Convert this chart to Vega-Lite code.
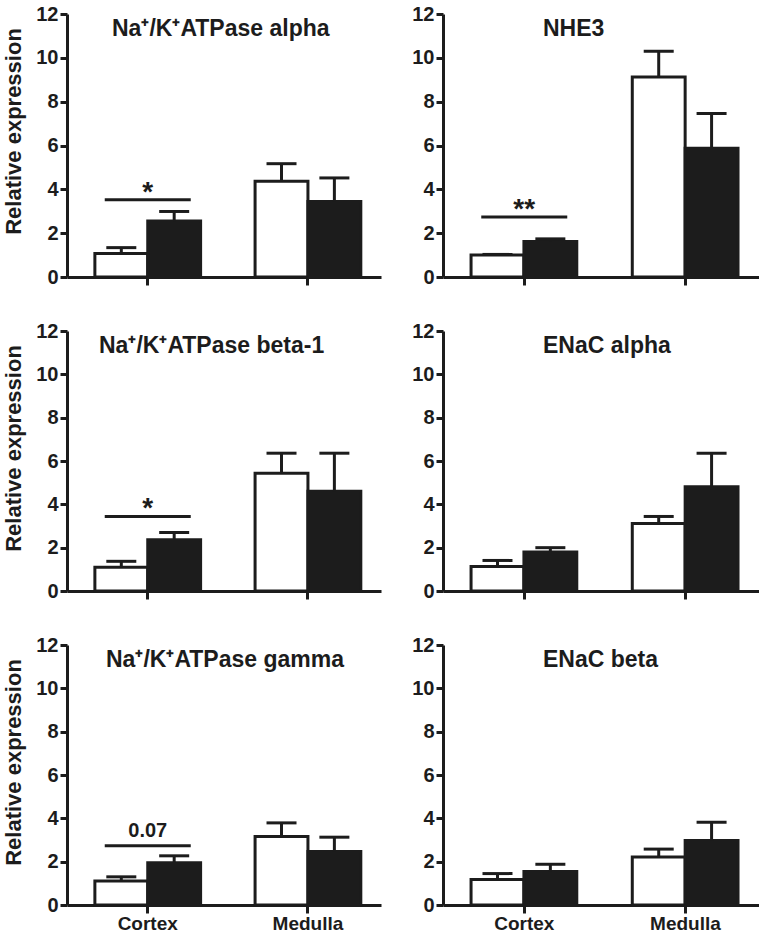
{
  "$schema": "https://vega.github.io/schema/vega-lite/v6.json",
  "padding": {"top": 4, "left": 2, "right": 0, "bottom": 0},
  "background": "white",
  "columns": 2,
  "align": "each",
  "spacing": {"row": 34, "column": 30},
  "datasets": {
    "bars": [
      {"gene": "Na⁺/K⁺ATPase alpha", "region": "Cortex", "group": "Control", "mean": 1.07, "upper": 1.34},
      {"gene": "Na⁺/K⁺ATPase alpha", "region": "Cortex", "group": "Treated", "mean": 2.55, "upper": 2.99},
      {"gene": "Na⁺/K⁺ATPase alpha", "region": "Medulla", "group": "Control", "mean": 4.37, "upper": 5.17},
      {"gene": "Na⁺/K⁺ATPase alpha", "region": "Medulla", "group": "Treated", "mean": 3.45, "upper": 4.52},
      {"gene": "NHE3", "region": "Cortex", "group": "Control", "mean": 1.0, "upper": 1.03},
      {"gene": "NHE3", "region": "Cortex", "group": "Treated", "mean": 1.62, "upper": 1.74},
      {"gene": "NHE3", "region": "Medulla", "group": "Control", "mean": 9.12, "upper": 10.3},
      {"gene": "NHE3", "region": "Medulla", "group": "Treated", "mean": 5.87, "upper": 7.46},
      {"gene": "Na⁺/K⁺ATPase beta-1", "region": "Cortex", "group": "Control", "mean": 1.1, "upper": 1.37},
      {"gene": "Na⁺/K⁺ATPase beta-1", "region": "Cortex", "group": "Treated", "mean": 2.36, "upper": 2.7},
      {"gene": "Na⁺/K⁺ATPase beta-1", "region": "Medulla", "group": "Control", "mean": 5.43, "upper": 6.36},
      {"gene": "Na⁺/K⁺ATPase beta-1", "region": "Medulla", "group": "Treated", "mean": 4.6, "upper": 6.36},
      {"gene": "ENaC alpha", "region": "Cortex", "group": "Control", "mean": 1.13, "upper": 1.41},
      {"gene": "ENaC alpha", "region": "Cortex", "group": "Treated", "mean": 1.8, "upper": 2.0},
      {"gene": "ENaC alpha", "region": "Medulla", "group": "Control", "mean": 3.12, "upper": 3.44},
      {"gene": "ENaC alpha", "region": "Medulla", "group": "Treated", "mean": 4.81, "upper": 6.36},
      {"gene": "Na⁺/K⁺ATPase gamma", "region": "Cortex", "group": "Control", "mean": 1.11, "upper": 1.3},
      {"gene": "Na⁺/K⁺ATPase gamma", "region": "Cortex", "group": "Treated", "mean": 1.95, "upper": 2.27},
      {"gene": "Na⁺/K⁺ATPase gamma", "region": "Medulla", "group": "Control", "mean": 3.16, "upper": 3.79},
      {"gene": "Na⁺/K⁺ATPase gamma", "region": "Medulla", "group": "Treated", "mean": 2.47, "upper": 3.13},
      {"gene": "ENaC beta", "region": "Cortex", "group": "Control", "mean": 1.18, "upper": 1.45},
      {"gene": "ENaC beta", "region": "Cortex", "group": "Treated", "mean": 1.55, "upper": 1.88},
      {"gene": "ENaC beta", "region": "Medulla", "group": "Control", "mean": 2.22, "upper": 2.58},
      {"gene": "ENaC beta", "region": "Medulla", "group": "Treated", "mean": 2.98, "upper": 3.82}
    ],
    "sig": [
      {"gene": "Na⁺/K⁺ATPase alpha", "region": "Cortex", "y": 3.52, "label": "*", "kind": "star"},
      {"gene": "NHE3", "region": "Cortex", "y": 2.74, "label": "**", "kind": "star"},
      {"gene": "Na⁺/K⁺ATPase beta-1", "region": "Cortex", "y": 3.44, "label": "*", "kind": "star"},
      {"gene": "Na⁺/K⁺ATPase gamma", "region": "Cortex", "y": 2.74, "label": "0.07", "kind": "p"}
    ]
  },
  "concat": [
    {
      "width": 314, "height": 263,
      "title": {"text": "Na⁺/K⁺ATPase alpha", "dx": 45},
      "encoding": {
        "x": {"field": "region", "type": "nominal", "sort": ["Cortex", "Medulla"], "scale": {"paddingInner": 0.34, "paddingOuter": 0.15, "align": 0.58}, "axis": {"labels": false}}
      },
      "layer": [
        {"data": {"name": "bars"}, "transform": [{"filter": "datum.gene == 'Na⁺/K⁺ATPase alpha'"}],
         "mark": {"type": "bar", "stroke": "#1c1c1c", "strokeWidth": 3},
         "encoding": {"xOffset": {"field": "group", "type": "nominal"}, "y": {"field": "mean", "type": "quantitative", "scale": {"domain": [0, 12], "nice": false}, "axis": {"values": [0, 2, 4, 6, 8, 10, 12], "title": "Relative expression"}}, "fill": {"field": "group", "type": "nominal", "scale": {"domain": ["Control", "Treated"], "range": ["#ffffff", "#1c1c1c"]}, "legend": null}}},
        {"data": {"name": "bars"}, "transform": [{"filter": "datum.gene == 'Na⁺/K⁺ATPase alpha'"}],
         "mark": {"type": "rule", "color": "#1c1c1c", "strokeWidth": 3},
         "encoding": {"xOffset": {"field": "group", "type": "nominal"}, "y": {"field": "mean", "type": "quantitative"}, "y2": {"field": "upper"}}},
        {"data": {"name": "bars"}, "transform": [{"filter": "datum.gene == 'Na⁺/K⁺ATPase alpha'"}],
         "mark": {"type": "tick", "color": "#1c1c1c", "thickness": 3, "size": 30, "opacity": 1},
         "encoding": {"xOffset": {"field": "group", "type": "nominal"}, "y": {"field": "upper", "type": "quantitative"}}},
        {"data": {"name": "sig"}, "transform": [{"filter": "datum.gene == 'Na⁺/K⁺ATPase alpha'"}],
         "mark": {"type": "tick", "color": "#1c1c1c", "thickness": 3, "size": 86, "opacity": 1},
         "encoding": {"y": {"field": "y", "type": "quantitative"}}},
        {"data": {"name": "sig"}, "transform": [{"filter": "datum.gene == 'Na⁺/K⁺ATPase alpha' && datum.kind == 'star'"}],
         "mark": {"type": "text", "color": "#1c1c1c", "fontSize": 28, "fontWeight": "bold", "baseline": "alphabetic", "dy": 1},
         "encoding": {"y": {"field": "y", "type": "quantitative"}, "text": {"field": "label"}}}
      ]
    },
    {
      "width": 316, "height": 263,
      "title": {"text": "NHE3", "dx": 100},
      "encoding": {
        "x": {"field": "region", "type": "nominal", "sort": ["Cortex", "Medulla"], "scale": {"paddingInner": 0.34, "paddingOuter": 0.15, "align": 0.58}, "axis": {"labels": false}}
      },
      "layer": [
        {"data": {"name": "bars"}, "transform": [{"filter": "datum.gene == 'NHE3'"}],
         "mark": {"type": "bar", "stroke": "#1c1c1c", "strokeWidth": 3},
         "encoding": {"xOffset": {"field": "group", "type": "nominal"}, "y": {"field": "mean", "type": "quantitative", "scale": {"domain": [0, 12], "nice": false}, "axis": {"values": [0, 2, 4, 6, 8, 10, 12], "title": null}}, "fill": {"field": "group", "type": "nominal", "scale": {"domain": ["Control", "Treated"], "range": ["#ffffff", "#1c1c1c"]}, "legend": null}}},
        {"data": {"name": "bars"}, "transform": [{"filter": "datum.gene == 'NHE3'"}],
         "mark": {"type": "rule", "color": "#1c1c1c", "strokeWidth": 3},
         "encoding": {"xOffset": {"field": "group", "type": "nominal"}, "y": {"field": "mean", "type": "quantitative"}, "y2": {"field": "upper"}}},
        {"data": {"name": "bars"}, "transform": [{"filter": "datum.gene == 'NHE3'"}],
         "mark": {"type": "tick", "color": "#1c1c1c", "thickness": 3, "size": 30, "opacity": 1},
         "encoding": {"xOffset": {"field": "group", "type": "nominal"}, "y": {"field": "upper", "type": "quantitative"}}},
        {"data": {"name": "sig"}, "transform": [{"filter": "datum.gene == 'NHE3'"}],
         "mark": {"type": "tick", "color": "#1c1c1c", "thickness": 3, "size": 86, "opacity": 1},
         "encoding": {"y": {"field": "y", "type": "quantitative"}}},
        {"data": {"name": "sig"}, "transform": [{"filter": "datum.gene == 'NHE3' && datum.kind == 'star'"}],
         "mark": {"type": "text", "color": "#1c1c1c", "fontSize": 28, "fontWeight": "bold", "baseline": "alphabetic", "dy": 1},
         "encoding": {"y": {"field": "y", "type": "quantitative"}, "text": {"field": "label"}}}
      ]
    },
    {
      "width": 314, "height": 260,
      "title": {"text": "Na⁺/K⁺ATPase beta-1", "dx": 32},
      "encoding": {
        "x": {"field": "region", "type": "nominal", "sort": ["Cortex", "Medulla"], "scale": {"paddingInner": 0.34, "paddingOuter": 0.15, "align": 0.58}, "axis": {"labels": false}}
      },
      "layer": [
        {"data": {"name": "bars"}, "transform": [{"filter": "datum.gene == 'Na⁺/K⁺ATPase beta-1'"}],
         "mark": {"type": "bar", "stroke": "#1c1c1c", "strokeWidth": 3},
         "encoding": {"xOffset": {"field": "group", "type": "nominal"}, "y": {"field": "mean", "type": "quantitative", "scale": {"domain": [0, 12], "nice": false}, "axis": {"values": [0, 2, 4, 6, 8, 10, 12], "title": "Relative expression"}}, "fill": {"field": "group", "type": "nominal", "scale": {"domain": ["Control", "Treated"], "range": ["#ffffff", "#1c1c1c"]}, "legend": null}}},
        {"data": {"name": "bars"}, "transform": [{"filter": "datum.gene == 'Na⁺/K⁺ATPase beta-1'"}],
         "mark": {"type": "rule", "color": "#1c1c1c", "strokeWidth": 3},
         "encoding": {"xOffset": {"field": "group", "type": "nominal"}, "y": {"field": "mean", "type": "quantitative"}, "y2": {"field": "upper"}}},
        {"data": {"name": "bars"}, "transform": [{"filter": "datum.gene == 'Na⁺/K⁺ATPase beta-1'"}],
         "mark": {"type": "tick", "color": "#1c1c1c", "thickness": 3, "size": 30, "opacity": 1},
         "encoding": {"xOffset": {"field": "group", "type": "nominal"}, "y": {"field": "upper", "type": "quantitative"}}},
        {"data": {"name": "sig"}, "transform": [{"filter": "datum.gene == 'Na⁺/K⁺ATPase beta-1'"}],
         "mark": {"type": "tick", "color": "#1c1c1c", "thickness": 3, "size": 86, "opacity": 1},
         "encoding": {"y": {"field": "y", "type": "quantitative"}}},
        {"data": {"name": "sig"}, "transform": [{"filter": "datum.gene == 'Na⁺/K⁺ATPase beta-1' && datum.kind == 'star'"}],
         "mark": {"type": "text", "color": "#1c1c1c", "fontSize": 28, "fontWeight": "bold", "baseline": "alphabetic", "dy": 1},
         "encoding": {"y": {"field": "y", "type": "quantitative"}, "text": {"field": "label"}}}
      ]
    },
    {
      "width": 316, "height": 260,
      "title": {"text": "ENaC alpha", "dx": 100},
      "encoding": {
        "x": {"field": "region", "type": "nominal", "sort": ["Cortex", "Medulla"], "scale": {"paddingInner": 0.34, "paddingOuter": 0.15, "align": 0.58}, "axis": {"labels": false}}
      },
      "layer": [
        {"data": {"name": "bars"}, "transform": [{"filter": "datum.gene == 'ENaC alpha'"}],
         "mark": {"type": "bar", "stroke": "#1c1c1c", "strokeWidth": 3},
         "encoding": {"xOffset": {"field": "group", "type": "nominal"}, "y": {"field": "mean", "type": "quantitative", "scale": {"domain": [0, 12], "nice": false}, "axis": {"values": [0, 2, 4, 6, 8, 10, 12], "title": null}}, "fill": {"field": "group", "type": "nominal", "scale": {"domain": ["Control", "Treated"], "range": ["#ffffff", "#1c1c1c"]}, "legend": null}}},
        {"data": {"name": "bars"}, "transform": [{"filter": "datum.gene == 'ENaC alpha'"}],
         "mark": {"type": "rule", "color": "#1c1c1c", "strokeWidth": 3},
         "encoding": {"xOffset": {"field": "group", "type": "nominal"}, "y": {"field": "mean", "type": "quantitative"}, "y2": {"field": "upper"}}},
        {"data": {"name": "bars"}, "transform": [{"filter": "datum.gene == 'ENaC alpha'"}],
         "mark": {"type": "tick", "color": "#1c1c1c", "thickness": 3, "size": 30, "opacity": 1},
         "encoding": {"xOffset": {"field": "group", "type": "nominal"}, "y": {"field": "upper", "type": "quantitative"}}}
      ]
    },
    {
      "width": 314, "height": 260,
      "title": {"text": "Na⁺/K⁺ATPase gamma", "dx": 39},
      "encoding": {
        "x": {"field": "region", "type": "nominal", "sort": ["Cortex", "Medulla"], "scale": {"paddingInner": 0.34, "paddingOuter": 0.15, "align": 0.58}, "axis": {"labels": true}}
      },
      "layer": [
        {"data": {"name": "bars"}, "transform": [{"filter": "datum.gene == 'Na⁺/K⁺ATPase gamma'"}],
         "mark": {"type": "bar", "stroke": "#1c1c1c", "strokeWidth": 3},
         "encoding": {"xOffset": {"field": "group", "type": "nominal"}, "y": {"field": "mean", "type": "quantitative", "scale": {"domain": [0, 12], "nice": false}, "axis": {"values": [0, 2, 4, 6, 8, 10, 12], "title": "Relative expression"}}, "fill": {"field": "group", "type": "nominal", "scale": {"domain": ["Control", "Treated"], "range": ["#ffffff", "#1c1c1c"]}, "legend": null}}},
        {"data": {"name": "bars"}, "transform": [{"filter": "datum.gene == 'Na⁺/K⁺ATPase gamma'"}],
         "mark": {"type": "rule", "color": "#1c1c1c", "strokeWidth": 3},
         "encoding": {"xOffset": {"field": "group", "type": "nominal"}, "y": {"field": "mean", "type": "quantitative"}, "y2": {"field": "upper"}}},
        {"data": {"name": "bars"}, "transform": [{"filter": "datum.gene == 'Na⁺/K⁺ATPase gamma'"}],
         "mark": {"type": "tick", "color": "#1c1c1c", "thickness": 3, "size": 30, "opacity": 1},
         "encoding": {"xOffset": {"field": "group", "type": "nominal"}, "y": {"field": "upper", "type": "quantitative"}}},
        {"data": {"name": "sig"}, "transform": [{"filter": "datum.gene == 'Na⁺/K⁺ATPase gamma'"}],
         "mark": {"type": "tick", "color": "#1c1c1c", "thickness": 3, "size": 86, "opacity": 1},
         "encoding": {"y": {"field": "y", "type": "quantitative"}}},
        {"data": {"name": "sig"}, "transform": [{"filter": "datum.gene == 'Na⁺/K⁺ATPase gamma' && datum.kind == 'p'"}],
         "mark": {"type": "text", "color": "#1c1c1c", "fontSize": 20, "fontWeight": "bold", "baseline": "alphabetic", "dy": -9},
         "encoding": {"y": {"field": "y", "type": "quantitative"}, "text": {"field": "label"}}}
      ]
    },
    {
      "width": 316, "height": 260,
      "title": {"text": "ENaC beta", "dx": 100},
      "encoding": {
        "x": {"field": "region", "type": "nominal", "sort": ["Cortex", "Medulla"], "scale": {"paddingInner": 0.34, "paddingOuter": 0.15, "align": 0.58}, "axis": {"labels": true}}
      },
      "layer": [
        {"data": {"name": "bars"}, "transform": [{"filter": "datum.gene == 'ENaC beta'"}],
         "mark": {"type": "bar", "stroke": "#1c1c1c", "strokeWidth": 3},
         "encoding": {"xOffset": {"field": "group", "type": "nominal"}, "y": {"field": "mean", "type": "quantitative", "scale": {"domain": [0, 12], "nice": false}, "axis": {"values": [0, 2, 4, 6, 8, 10, 12], "title": null}}, "fill": {"field": "group", "type": "nominal", "scale": {"domain": ["Control", "Treated"], "range": ["#ffffff", "#1c1c1c"]}, "legend": null}}},
        {"data": {"name": "bars"}, "transform": [{"filter": "datum.gene == 'ENaC beta'"}],
         "mark": {"type": "rule", "color": "#1c1c1c", "strokeWidth": 3},
         "encoding": {"xOffset": {"field": "group", "type": "nominal"}, "y": {"field": "mean", "type": "quantitative"}, "y2": {"field": "upper"}}},
        {"data": {"name": "bars"}, "transform": [{"filter": "datum.gene == 'ENaC beta'"}],
         "mark": {"type": "tick", "color": "#1c1c1c", "thickness": 3, "size": 30, "opacity": 1},
         "encoding": {"xOffset": {"field": "group", "type": "nominal"}, "y": {"field": "upper", "type": "quantitative"}}}
      ]
    }
  ],
  "config": {
    "font": "Liberation Sans",
    "view": {"stroke": null},
    "axis": {"domainColor": "#1c1c1c", "domainWidth": 3, "tickColor": "#1c1c1c", "tickWidth": 3, "labelFont": "Liberation Sans", "labelFontWeight": "bold", "labelColor": "#1c1c1c", "grid": false, "titleFont": "Liberation Sans", "titleFontWeight": "bold", "titleColor": "#1c1c1c"},
    "axisY": {"tickSize": 7, "labelFontSize": 20, "labelPadding": 2, "titleFontSize": 22, "titlePadding": 10, "titleY": 117},
    "axisX": {"tickSize": 8, "labelFontSize": 19, "labelPadding": 1, "labelAngle": 0, "title": null},
    "title": {"anchor": "start", "frame": "group", "offset": -37, "fontSize": 23, "fontWeight": "bold", "color": "#1c1c1c", "font": "Liberation Sans"}
  }
}
